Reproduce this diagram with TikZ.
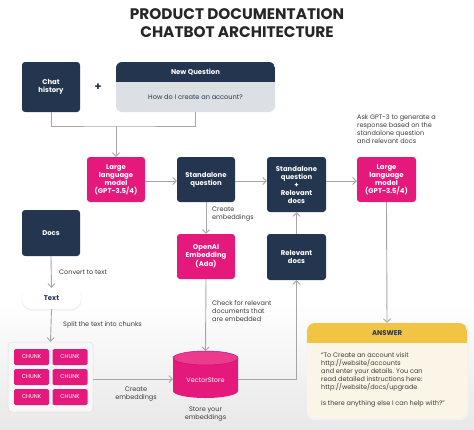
\documentclass[tikz,border=0pt]{standalone}
\usepackage{fontspec}
\setmainfont{Poppins}
\usetikzlibrary{arrows.meta,shapes.geometric}
\definecolor{navy}{HTML}{24364F}
\definecolor{hotpink}{HTML}{E5197C}
\definecolor{pinkedge}{HTML}{C9126A}
\definecolor{pinktop}{HTML}{EC3A8E}
\definecolor{gline}{HTML}{A6A6A6}
\definecolor{qgray}{HTML}{DCDFE3}
\definecolor{ayellow}{HTML}{F2C443}
\definecolor{acream}{HTML}{FBF5E7}
\definecolor{labelgray}{HTML}{3A3A3A}
\tikzset{
  boxtext/.style={font=\fontsize{6.9}{8}\selectfont\bfseries, text=white, align=center},
  darkbox/.style={boxtext, rectangle, rounded corners=3pt, fill=navy, inner sep=0pt},
  pinkbox/.style={boxtext, rectangle, rounded corners=3pt, fill=hotpink, inner sep=0pt},
  chunkbox/.style={rectangle, rounded corners=1.5pt, fill=hotpink, inner sep=0pt,
     minimum width=35pt, minimum height=16pt, text=white, font=\fontsize{5.6}{6}\selectfont},
  lbl/.style={font=\fontsize{6.5}{8}\selectfont, text=labelgray, align=left, inner sep=0pt},
  lblc/.style={font=\fontsize{6.5}{8}\selectfont, text=labelgray, align=center, inner sep=0pt},
  conn/.style={draw=gline, line width=0.9pt},
  arr/.style={conn, -{Straight Barb[length=3.5pt, width=7pt, line width=0.9pt]}},
}
\begin{document}
\begin{tikzpicture}[x=1pt, y=-1pt]
\useasboundingbox (0,0) rectangle (474,429);
\fill[white] (0,0) rectangle (474,429);
\shade[top color=white, bottom color=black!9] (0,300) rectangle (474,429);

% title
\node[font=\fontsize{15.3}{18}\selectfont\bfseries, text=black!85, align=center] (title) at (237,23)
  {PRODUCT DOCUMENTATION\\CHATBOT ARCHITECTURE};

% top row
\node[darkbox, minimum width=58pt, minimum height=50pt] (chat) at (51,87) {Chat\\history};
\node[font=\fontsize{11}{11}\selectfont\bfseries, text=navy] (plus) at (98,87) {+};
\node[rectangle, rounded corners=6pt, fill=qgray, minimum width=159pt, minimum height=50pt, inner sep=0pt] (newq) at (195.5,87) {};
\begin{scope}
  \clip[rounded corners=6pt] (116,62) rectangle (275,112);
  \fill[navy] (116,62) rectangle (275,82);
\end{scope}
\node[boxtext] (nqhead) at (195.5,72) {New Question};
\node[font=\fontsize{6.6}{8}\selectfont, text=navy] (nqbody) at (195.5,97) {How do I create an account?};

\coordinate (join) at (116,126);
\draw[conn] (chat.south) |- (join) -| (newq.south);

% middle row
\node[pinkbox, minimum width=58pt, minimum height=45pt] (llm1) at (116,179.5) {Large\\language\\model\\(GPT-3.5/4)};
\node[darkbox, minimum width=58pt, minimum height=45pt] (sq) at (206,179.5) {Standalone\\question};
\node[darkbox, minimum width=59pt, minimum height=55pt] (sqrd) at (296.5,184.5) {Standalone\\question\\+\\Relevant\\docs};
\node[pinkbox, minimum width=59pt, minimum height=45pt] (llm2) at (386.5,179.5) {Large\\language\\model\\(GPT-3.5/4)};
\node[lbl, anchor=north west] (ask) at (357,114) {Ask GPT-3 to generate a\\response based on the\\standalone question\\and relevant docs};

\draw[arr] (join) -- (llm1.north);
\coordinate (sqout) at (235,181);
\coordinate (sqrdout) at (326,181);
\draw[arr] (llm1.east |- sqout) -- (sq.west |- sqout);
\draw[arr] (sqout) -- (sqrd.west |- sqout);
\draw[arr] (sqrdout) -- (llm2.west |- sqrdout);

% docs column
\node[darkbox, minimum width=58pt, minimum height=46pt] (docs) at (51,233) {Docs};
\node[rectangle, rounded corners=10pt, fill=black!6, minimum width=60pt, minimum height=22pt] (textshadow) at (51.5,299.5) {};
\node[rectangle, rounded corners=10pt, fill=white, minimum width=59pt, minimum height=21pt, inner sep=0pt,
      font=\fontsize{6.9}{8}\selectfont\bfseries, text=navy] (text) at (51.5,298.5) {Text};
\node[rectangle, rounded corners=4pt, fill=black!3, draw=black!12, line width=0.5pt,
      minimum width=85pt, minimum height=70pt, inner sep=0pt] (chunks) at (50.5,377) {};
\node[chunkbox] (c11) at (31.5,357) {CHUNK};
\node[chunkbox] (c12) at (70,357) {CHUNK};
\node[chunkbox] (c21) at (31.5,377) {CHUNK};
\node[chunkbox] (c22) at (70,377) {CHUNK};
\node[chunkbox] (c31) at (31.5,397) {CHUNK};
\node[chunkbox] (c32) at (70,397) {CHUNK};

\draw[arr] (docs.south) -- (text.north);
\draw[arr] (text.south) -- (chunks.north);
\node[lbl, anchor=west] (conv) at (59,272) {Convert to text};
\node[lbl, anchor=west] (split) at (63,325) {Split the text into chunks};

% embedding column
\node[pinkbox, minimum width=58pt, minimum height=45pt] (oai) at (206,256.5) {OpenAI\\Embedding\\(Ada)};
\node[lbl, anchor=north west] (cemb1) at (212,207) {Create\\embeddings};
\draw[arr] (sq.south) -- (oai.north);
\node[lbl, anchor=north west] (check) at (212,300) {Check for relevant\\documents that\\are embedded};

% vector store cylinder
\fill[hotpink] (173,358) -- (173,391) arc[start angle=180, end angle=360, x radius=32.5pt, y radius=7pt] -- (238,358) -- cycle;
\fill[pinktop, draw=pinkedge, line width=0.5pt] (205.5,358) ellipse [x radius=32.5pt, y radius=7pt];
\coordinate (vstop) at (205.5,351);
\coordinate (vsleft) at (173,379);
\coordinate (vsright) at (238,379);
\node[font=\fontsize{6.5}{8}\selectfont, text=white] (vs) at (205.5,380) {VectorStore};
\node[lblc] (store) at (205.5,414) {Store your\\embeddings};
\draw[arr] (oai.south) -- (vstop);
\draw[arr] (chunks.east |- vsleft) -- (vsleft);
\node[lblc] (cemb2) at (136,394) {Create\\embeddings};

% relevant docs
\node[darkbox, minimum width=59pt, minimum height=46pt] (reldocs) at (296.5,257) {Relevant\\docs};
\draw[arr] (vsright) -| (reldocs.south);
\draw[arr] (reldocs.north) -- (sqrd.south);

% answer
\node[rectangle, rounded corners=8pt, fill=black!5, minimum width=162pt, minimum height=97pt] (ashadow) at (387.5,371.5) {};
\node[rectangle, rounded corners=8pt, fill=acream, minimum width=160pt, minimum height=95pt, inner sep=0pt] (answer) at (387,370.5) {};
\begin{scope}
  \clip[rounded corners=8pt] (307,323) rectangle (467,418);
  \fill[ayellow] (307,323) rectangle (467,343);
\end{scope}
\node[font=\fontsize{6.9}{8}\selectfont\bfseries, text=navy] (ahead) at (387,333) {ANSWER};
\node[font=\fontsize{6.5}{8}\selectfont, text=labelgray, align=left, anchor=north west, inner sep=0pt] (abody) at (321,352)
  {``To Create an account visit\\http://website/accounts\\and enter your details. You can\\read detailed instructions here:\\http://website/docs/upgrade\\[8pt]Is there anything else I can help with?''};
\draw[arr] (llm2.south) -- (answer.north);
\end{tikzpicture}
\end{document}
